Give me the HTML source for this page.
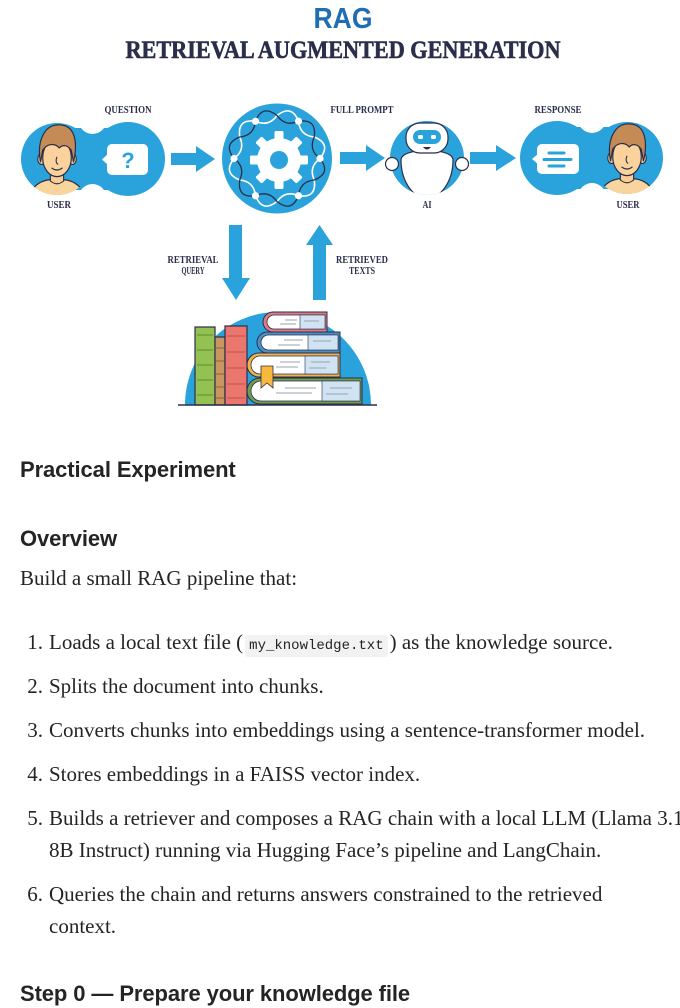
<!DOCTYPE html>
<html>
<head>
<meta charset="utf-8">
<style>
  html,body{margin:0;padding:0;background:#fff;}
  body{width:680px;height:992px;overflow:hidden;position:relative;}
  .h{position:absolute;left:20px;font-family:"Liberation Sans",Arial,sans-serif;font-weight:bold;font-size:22px;line-height:28px;color:#242424;white-space:nowrap;letter-spacing:-0.1px;}
  .p{position:absolute;left:20px;font-family:"Liberation Serif","Times New Roman",serif;font-size:21px;line-height:32px;color:#242424;white-space:nowrap;}
  .n{position:absolute;left:14px;width:29px;text-align:right;font-family:"Liberation Serif","Times New Roman",serif;font-size:21px;line-height:32px;color:#242424;}
  .t{position:absolute;left:49px;font-family:"Liberation Serif","Times New Roman",serif;font-size:21px;line-height:32px;color:#242424;white-space:nowrap;}
  code{font-family:"Liberation Mono",monospace;font-size:14px;background:#f2f2f2;padding:3px 4px;border-radius:3px;margin:0 2px;}
</style>
</head>
<body>
<svg width="680" height="420" viewBox="0 0 680 420" style="position:absolute;left:0;top:0" xmlns="http://www.w3.org/2000/svg">
  <defs>
    <clipPath id="cl"><circle cx="0" cy="0" r="32.8"/></clipPath>
    <g id="face">
      <g clip-path="url(#cl)">
        <path d="M-28,46 Q-26,22 -8,19 L8,19 Q26,22 28,46 Z" fill="#f7d59c" stroke="#2b2e4a" stroke-width="1.1"/>
      </g>
      <path d="M-6,8 L-6,20 Q0,25 6,20 L6,8 Z" fill="#f9cd91" stroke="#2b2e4a" stroke-width="1"/>
      <ellipse cx="-14" cy="0" rx="3.5" ry="5" fill="#f9cd91" stroke="#2b2e4a" stroke-width="1"/>
      <ellipse cx="14" cy="0" rx="3.5" ry="5" fill="#f9cd91" stroke="#2b2e4a" stroke-width="1"/>
      <ellipse cx="0" cy="-1" rx="13" ry="17" fill="#fbd29b" stroke="#2b2e4a" stroke-width="1.1"/>
      <path d="M-15,3 C-19,-18 -10,-32 2,-31 C14,-31 20,-20 15,3 L13,-8 C10,-12 6,-14 2,-10 C-2,-15 -9,-14 -13,-8 Z" fill="#c48b57" stroke="#2b2e4a" stroke-width="1.1"/>
      <path d="M0,-2 q-2,5 1,7" fill="none" stroke="#2b2e4a" stroke-width="1"/>
      <path d="M-5,8 q5,4 10,0" fill="none" stroke="#2b2e4a" stroke-width="1.1"/>
    </g>
    <rect id="tooth" x="-4.5" y="-29" width="9" height="11" rx="1.5" fill="#fff"/>
    <g id="ringpiece">
      <path d="M43,0 Q31.39,8.41 37.24,21.5 Q39.95,39.95 21.5,37.24" fill="none" stroke="#fff" stroke-width="1.6"/>
      <path d="M43,0 Q54.57,14.62 37.24,21.5 Q22.98,22.98 21.5,37.24" fill="none" stroke="#2b2e4a" stroke-width="1.3"/>
    </g>
    <clipPath id="aiclip"><circle cx="427" cy="158" r="37"/></clipPath>
  </defs>

  <!-- Titles -->
  <text x="343" y="28" text-anchor="middle" textLength="59" lengthAdjust="spacingAndGlyphs" font-family="Liberation Sans, Arial, sans-serif" font-weight="bold" font-size="29" fill="#1f6db2">RAG</text>
  <text x="343" y="58" text-anchor="middle" textLength="435" lengthAdjust="spacingAndGlyphs" font-family="Liberation Serif, serif" font-weight="bold" font-size="25" fill="#2b2e4a" stroke="#2b2e4a" stroke-width="0.6">RETRIEVAL AUGMENTED GENERATION</text>

  <!-- Left group -->
  <rect x="75" y="128" width="35" height="62" fill="#2aa3dc"/>
  <circle cx="92.5" cy="120" r="14" fill="#fff"/>
  <circle cx="92.5" cy="198" r="14" fill="#fff"/>
  <circle cx="57" cy="159" r="36" fill="#2aa3dc"/>
  <circle cx="128" cy="159" r="37" fill="#2aa3dc"/>
  <use href="#face" transform="translate(57,159) scale(1.1)"/>
  <rect x="107" y="144" width="41" height="31" rx="5" fill="#fff"/>
  <polygon points="108,154 102,159.5 108,165" fill="#fff"/>
  <text x="128" y="168" text-anchor="middle" font-family="Liberation Sans, Arial, sans-serif" font-weight="bold" font-size="22" fill="#2aa3dc">?</text>

  <!-- Arrows -->
  <polygon points="171,153 196,153 196,146 215,159 196,172 196,165 171,165" fill="#2aa3dc"/>
  <polygon points="340,152 366,152 366,145 385,158 366,171 366,164 340,164" fill="#2aa3dc"/>
  <polygon points="470,152 496,152 496,145 516,158 496,171 496,164 470,164" fill="#2aa3dc"/>

  <!-- Gear circle -->
  <circle cx="277" cy="158.5" r="55" fill="#2aa3dc"/>
  <g transform="translate(279,160)">
    <circle cx="0" cy="0" r="22" fill="#fff"/>
    <use href="#tooth"/>
    <use href="#tooth" transform="rotate(45)"/>
    <use href="#tooth" transform="rotate(90)"/>
    <use href="#tooth" transform="rotate(135)"/>
    <use href="#tooth" transform="rotate(180)"/>
    <use href="#tooth" transform="rotate(225)"/>
    <use href="#tooth" transform="rotate(270)"/>
    <use href="#tooth" transform="rotate(315)"/>
    <circle cx="0" cy="0" r="9" fill="#2aa3dc"/>
  </g>
  <g transform="translate(277,158.5)">
    <use href="#ringpiece"/>
    <use href="#ringpiece" transform="rotate(60)"/>
    <use href="#ringpiece" transform="rotate(120)"/>
    <use href="#ringpiece" transform="rotate(180)"/>
    <use href="#ringpiece" transform="rotate(240)"/>
    <use href="#ringpiece" transform="rotate(300)"/>
    <circle cx="43" cy="0" r="3.6" fill="#fff"/>
    <circle cx="21.5" cy="37.24" r="3.6" fill="#fff"/>
    <circle cx="-21.5" cy="37.24" r="3.6" fill="#fff"/>
    <circle cx="-43" cy="0" r="3.6" fill="#fff"/>
    <circle cx="-21.5" cy="-37.24" r="3.6" fill="#fff"/>
    <circle cx="21.5" cy="-37.24" r="3.6" fill="#fff"/>
  </g>

  <!-- AI circle -->
  <circle cx="427" cy="158" r="37" fill="#2aa3dc"/>
  <circle cx="392" cy="164" r="6.5" fill="#fff" stroke="#2b2e4a" stroke-width="1.2"/>
  <circle cx="462" cy="164" r="6.5" fill="#fff" stroke="#2b2e4a" stroke-width="1.2"/>
  <g clip-path="url(#aiclip)">
    <path d="M401,160 C401,147 453,147 453,160 C453,183 439,199 427,199 C415,199 401,183 401,160 Z" fill="#fff" stroke="#2b2e4a" stroke-width="1.2"/>
  </g>
  <rect x="406" y="123" width="42" height="30" rx="14" fill="#fff" stroke="#2b2e4a" stroke-width="1.2"/>
  <rect x="413" y="130" width="28" height="14" rx="7" fill="#2aa3dc"/>
  <rect x="418" y="135" width="5" height="4" rx="1.5" fill="#fff"/>
  <rect x="431" y="135" width="5" height="4" rx="1.5" fill="#fff"/>
  <path d="M423,147 Q427,152 431,147 Z" fill="#2b2e4a"/>

  <!-- Right group -->
  <rect x="575" y="127" width="35" height="62" fill="#2aa3dc"/>
  <circle cx="592" cy="119" r="14" fill="#fff"/>
  <circle cx="592" cy="197" r="14" fill="#fff"/>
  <circle cx="557" cy="158" r="37" fill="#2aa3dc"/>
  <circle cx="627" cy="158" r="36" fill="#2aa3dc"/>
  <use href="#face" transform="translate(627,158) scale(1.1)"/>
  <rect x="537" y="144" width="42" height="30" rx="5" fill="#fff"/>
  <polygon points="538,154 532,159 538,164" fill="#fff"/>
  <line x1="549" y1="153" x2="564" y2="153" stroke="#2aa3dc" stroke-width="3" stroke-linecap="round"/>
  <line x1="544" y1="159.5" x2="571" y2="159.5" stroke="#2aa3dc" stroke-width="3" stroke-linecap="round"/>
  <line x1="549" y1="166" x2="564" y2="166" stroke="#2aa3dc" stroke-width="3" stroke-linecap="round"/>

  <!-- Labels -->
  <g font-family="Liberation Serif, serif" font-weight="bold" font-size="10" fill="#2b2e4a" text-anchor="middle">
    <text x="128" y="113" textLength="47" lengthAdjust="spacingAndGlyphs">QUESTION</text>
    <text x="362" y="113" textLength="63" lengthAdjust="spacingAndGlyphs">FULL PROMPT</text>
    <text x="558" y="113" textLength="47" lengthAdjust="spacingAndGlyphs">RESPONSE</text>
    <text x="59" y="208" textLength="24" lengthAdjust="spacingAndGlyphs">USER</text>
    <text x="427" y="208" textLength="9" lengthAdjust="spacingAndGlyphs">AI</text>
    <text x="628" y="208" textLength="23" lengthAdjust="spacingAndGlyphs">USER</text>
    <text x="193" y="263" textLength="51" lengthAdjust="spacingAndGlyphs">RETRIEVAL</text>
    <text x="193" y="274" textLength="23" lengthAdjust="spacingAndGlyphs">QUERY</text>
    <text x="362" y="263" textLength="52" lengthAdjust="spacingAndGlyphs">RETRIEVED</text>
    <text x="362" y="274" textLength="26" lengthAdjust="spacingAndGlyphs">TEXTS</text>
  </g>

  <!-- Vertical arrows -->
  <polygon points="229,225 242,225 242,278 250,278 236,300 222,278 229,278" fill="#2aa3dc"/>
  <polygon points="313,300 326,300 326,245 333,245 319.5,225 306,245 313,245" fill="#2aa3dc"/>

  <!-- Books -->
  <path d="M185,405 A93,93 0 0 1 371,405 Z" fill="#2aa3dc"/>

  <rect x="195" y="327" width="20" height="78" fill="#93c152" stroke="#2b2e4a" stroke-width="1.2"/>
  <g stroke="#5f8a34" stroke-width="1">
    <line x1="197" y1="335" x2="213" y2="335"/><line x1="197" y1="350" x2="213" y2="350"/>
    <line x1="197" y1="365" x2="213" y2="365"/><line x1="197" y1="380" x2="213" y2="380"/>
    <line x1="197" y1="395" x2="213" y2="395"/>
  </g>
  <rect x="215" y="337" width="10" height="68" fill="#c99560" stroke="#2b2e4a" stroke-width="1.2"/>
  <g stroke="#8d6238" stroke-width="1">
    <line x1="216" y1="348" x2="224" y2="348"/><line x1="216" y1="361" x2="224" y2="361"/>
    <line x1="216" y1="374" x2="224" y2="374"/><line x1="216" y1="387" x2="224" y2="387"/>
    <line x1="216" y1="398" x2="224" y2="398"/>
  </g>
  <rect x="225" y="326" width="22" height="79" fill="#ea766e" stroke="#2b2e4a" stroke-width="1.2"/>
  <g stroke="#b9534f" stroke-width="1">
    <line x1="227" y1="336" x2="245" y2="336"/><line x1="227" y1="352" x2="245" y2="352"/>
    <line x1="227" y1="368" x2="245" y2="368"/><line x1="227" y1="384" x2="245" y2="384"/>
    <line x1="227" y1="398" x2="245" y2="398"/>
  </g>

  <!-- Book D (bottom, green) -->
  <path d="M362,378 H260 A13,13 0 0 0 260,404 H362 Z" fill="#6e9e4e" stroke="#2b2e4a" stroke-width="1"/>
  <path d="M360,381 H261 A10,10 0 0 0 261,401 H360 Z" fill="#fff" stroke="#2b2e4a" stroke-width="0.8"/>
  <rect x="322" y="381" width="38" height="20" fill="#cfe3f2" stroke="#2b2e4a" stroke-width="0.6"/>
  <g stroke="#9aa3ad" stroke-width="1"><line x1="285" y1="388" x2="316" y2="388"/><line x1="276" y1="393" x2="312" y2="393"/><line x1="330" y1="388" x2="352" y2="388"/><line x1="326" y1="394" x2="348" y2="394"/></g>

  <!-- Book C (orange) -->
  <path d="M340,353 H259 A12,12 0 0 0 259,377 H340 Z" fill="#f0b24c" stroke="#2b2e4a" stroke-width="1"/>
  <path d="M338,356 H260 A9,9 0 0 0 260,374 H338 Z" fill="#fff" stroke="#2b2e4a" stroke-width="0.8"/>
  <rect x="305" y="356" width="33" height="18" fill="#cfe3f2" stroke="#2b2e4a" stroke-width="0.6"/>
  <g stroke="#9aa3ad" stroke-width="1"><line x1="280" y1="362" x2="300" y2="362"/><line x1="276" y1="367" x2="298" y2="367"/><line x1="311" y1="362" x2="330" y2="362"/><line x1="309" y1="368" x2="326" y2="368"/></g>

  <!-- Book B (blue) -->
  <path d="M340,332 H267.5 A10.5,10.5 0 0 0 267.5,353 H340 Z" fill="#4a90c8" stroke="#2b2e4a" stroke-width="1"/>
  <path d="M338,335 H268.5 A7.5,7.5 0 0 0 268.5,350 H338 Z" fill="#fff" stroke="#2b2e4a" stroke-width="0.8"/>
  <rect x="308" y="335" width="30" height="15" fill="#cfe3f2" stroke="#2b2e4a" stroke-width="0.6"/>
  <g stroke="#9aa3ad" stroke-width="1"><line x1="284" y1="340" x2="303" y2="340"/><line x1="278" y1="345" x2="300" y2="345"/><line x1="313" y1="341" x2="331" y2="341"/></g>

  <!-- Book A (top, red) -->
  <path d="M327,312 H273 A10,10 0 0 0 273,332 H327 Z" fill="#df7b80" stroke="#2b2e4a" stroke-width="1"/>
  <path d="M325,315 H274 A7,7 0 0 0 274,329 H325 Z" fill="#fff" stroke="#2b2e4a" stroke-width="0.8"/>
  <rect x="300" y="315" width="25" height="14" fill="#cfe3f2" stroke="#2b2e4a" stroke-width="0.6"/>
  <g stroke="#9aa3ad" stroke-width="1"><line x1="285" y1="320" x2="297" y2="320"/><line x1="280" y1="324" x2="296" y2="324"/><line x1="304" y1="321" x2="319" y2="321"/></g>

  <!-- Bookmark -->
  <polygon points="261,366 273,366 273,388 267,383 261,388" fill="#f7b83d" stroke="#2b2e4a" stroke-width="0.8"/>

  <line x1="178" y1="405" x2="377" y2="405" stroke="#2b2e4a" stroke-width="1.5"/>
</svg>

<div class="h" style="top:456px">Practical Experiment</div>
<div class="h" style="top:525px">Overview</div>
<div class="p" style="top:562px">Build a small RAG pipeline that:</div>

<div class="n" style="top:626px">1.</div>
<div class="t" style="top:626px">Loads a local text file (<code>my_knowledge.txt</code>) as the knowledge source.</div>

<div class="n" style="top:670px">2.</div>
<div class="t" style="top:670px">Splits the document into chunks.</div>

<div class="n" style="top:714px">3.</div>
<div class="t" style="top:714px">Converts chunks into embeddings using a sentence-transformer model.</div>

<div class="n" style="top:758px">4.</div>
<div class="t" style="top:758px">Stores embeddings in a FAISS vector index.</div>

<div class="n" style="top:802px">5.</div>
<div class="t" style="top:802px">Builds a retriever and composes a RAG chain with a local LLM (Llama 3.1</div>
<div class="t" style="top:834px">8B Instruct) running via Hugging Face’s pipeline and LangChain.</div>

<div class="n" style="top:878px">6.</div>
<div class="t" style="top:878px">Queries the chain and returns answers constrained to the retrieved</div>
<div class="t" style="top:910px">context.</div>

<div class="h" style="top:980px">Step 0 — Prepare your knowledge file</div>
</body>
</html>
